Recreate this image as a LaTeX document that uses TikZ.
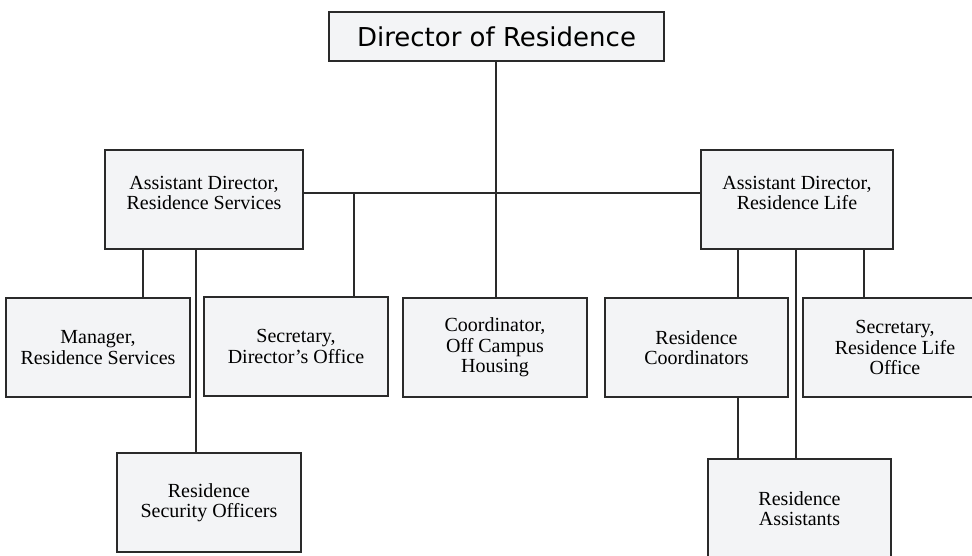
\documentclass[tikz,border=0pt]{standalone}
\usepackage{fontspec}
\setmainfont{Liberation Serif}
\newfontfamily\dirfont{DejaVu Sans}
\definecolor{boxfill}{HTML}{F3F4F6}
\definecolor{linegray}{HTML}{2A2A2A}
\begin{document}
\begin{tikzpicture}[x=1pt,y=-1pt,
  orgbox/.style={draw=linegray, line width=2pt, fill=boxfill, align=center,
    minimum width=184pt, minimum height=99pt, inner sep=0pt,
    font=\fontsize{20}{20.5}\selectfont},
  conn/.style={draw=linegray, line width=2pt}]
\useasboundingbox (0,0) rectangle (972,555);
\clip (0,0) rectangle (972,555);
% nodes
\node[orgbox, minimum width=335pt, minimum height=49pt, font=\dirfont\fontsize{26}{30}\selectfont] (dir) at (496.5,36.5) {Director of Residence};
\node[orgbox, minimum width=198pt, text depth=13pt] (adrs) at (204,199.5) {Assistant Director,\\Residence Services};
\node[orgbox, minimum width=192pt, text depth=13pt] (adrl) at (797,199.5) {Assistant Director,\\Residence Life};
\node[orgbox] (mgr) at (98,347.5) {Manager,\\Residence Services};
\node[orgbox] (secd) at (296,346.5) {Secretary,\\Director's Office};
\node[orgbox] (coord) at (495,347.5) {Coordinator,\\Off Campus\\Housing};
\node[orgbox, minimum width=183pt] (rc) at (696.5,347.5) {Residence\\Coordinators};
\node[orgbox] (secl) at (895,347.5) {Secretary,\\Residence Life\\Office};
\node[orgbox] (so) at (209,502.5) {Residence\\Security Officers};
\node[orgbox, minimum width=183pt] (ra) at (799.5,508.5) {Residence\\Assistants};
% bar level
\coordinate (bar) at (0,193);
% connectors
\draw[conn] ([xshift=-0.5pt]dir.south) -- ([xshift=-0.5pt]dir.south |- coord.north);
\draw[conn] (adrs.east |- bar) -- (adrl.west |- bar);
\draw[conn] ([xshift=58pt]secd.north) -- ([xshift=58pt]secd.north |- bar);
\draw[conn] ([xshift=45pt]mgr.north) -- ([xshift=45pt]mgr.north |- adrs.south);
\draw[conn] ([xshift=-13pt]so.north) -- ([xshift=-13pt]so.north |- adrs.south);
\draw[conn] ([xshift=41.5pt]rc.north) -- ([xshift=41.5pt]rc.north |- adrl.south);
\draw[conn] ([xshift=41.5pt]rc.south) -- ([xshift=41.5pt]rc.south |- ra.north);
\draw[conn] ([xshift=-3.5pt]ra.north) -- ([xshift=-3.5pt]ra.north |- adrl.south);
\draw[conn] ([xshift=-31pt]secl.north) -- ([xshift=-31pt]secl.north |- adrl.south);
\end{tikzpicture}
\end{document}
